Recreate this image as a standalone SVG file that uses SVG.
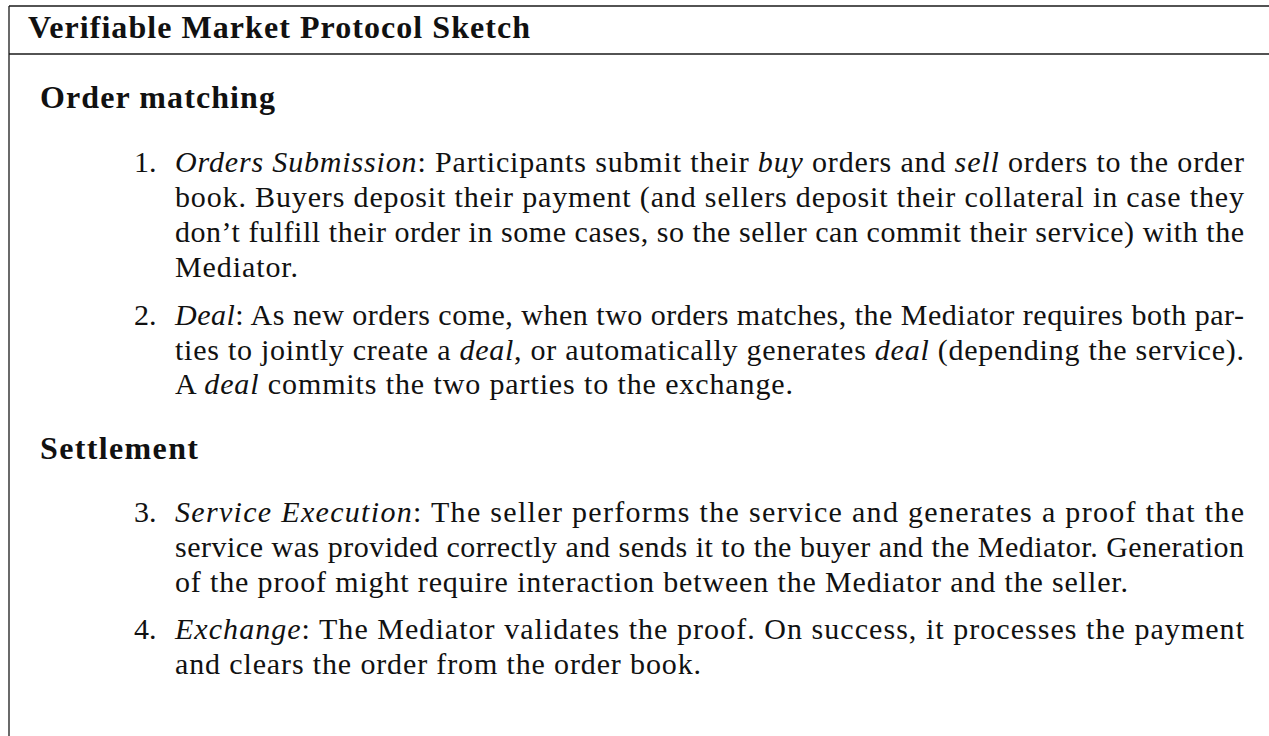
<svg xmlns="http://www.w3.org/2000/svg" width="1269" height="736" viewBox="0 0 1269 736">
<style>
.frame{stroke:#1a1a1a;stroke-width:1.3;fill:none}
.title{font-family:"Liberation Serif","Times New Roman",serif;font-weight:bold;font-size:32px;fill:#111}
.head{font-family:"Liberation Serif","Times New Roman",serif;font-weight:bold;font-size:32px;fill:#111}
.body{font-family:"Liberation Serif","Times New Roman",serif;font-size:30px;fill:#111}
.it{font-style:italic}
</style>
<rect width="1269" height="736" fill="#ffffff"/>
<g id="frame">
<line class="frame" x1="9" y1="6" x2="1269" y2="6"/>
<line class="frame" x1="9" y1="54" x2="1269" y2="54"/>
<line class="frame" x1="9" y1="6" x2="9" y2="736"/>
</g>
<g id="title">
<text class="title" x="28" y="38" textLength="502" lengthAdjust="spacing">Verifiable Market Protocol Sketch</text>
</g>
<g id="section-order-matching">
<text class="head" x="40" y="108" textLength="235" lengthAdjust="spacing">Order matching</text>
</g>
<g id="item-1">
<text class="body" x="134" y="172">1.</text>
<text class="body" x="175" y="172" textLength="1069" lengthAdjust="spacing"><tspan class="it">Orders Submission</tspan>: Participants submit their <tspan class="it">buy</tspan> orders and <tspan class="it">sell</tspan> orders to the order</text>
<text class="body" x="175" y="207" textLength="1069" lengthAdjust="spacing">book. Buyers deposit their payment (and sellers deposit their collateral in case they</text>
<text class="body" x="175" y="242" textLength="1069" lengthAdjust="spacing">don’t fulfill their order in some cases, so the seller can commit their service) with the</text>
<text class="body" x="175" y="277" textLength="123" lengthAdjust="spacing">Mediator.</text>
</g>
<g id="item-2">
<text class="body" x="134" y="325">2.</text>
<text class="body" x="175" y="325" textLength="1069" lengthAdjust="spacing"><tspan class="it">Deal</tspan>: As new orders come, when two orders matches, the Mediator requires both par-</text>
<text class="body" x="175" y="360" textLength="1069" lengthAdjust="spacing">ties to jointly create a <tspan class="it">deal</tspan>, or automatically generates <tspan class="it">deal</tspan> (depending the service).</text>
<text class="body" x="175" y="394" textLength="618" lengthAdjust="spacing">A <tspan class="it">deal</tspan> commits the two parties to the exchange.</text>
</g>
<g id="section-settlement">
<text class="head" x="40" y="459" textLength="158" lengthAdjust="spacing">Settlement</text>
</g>
<g id="item-3">
<text class="body" x="134" y="522">3.</text>
<text class="body" x="175" y="522" textLength="1069" lengthAdjust="spacing"><tspan class="it">Service Execution</tspan>: The seller performs the service and generates a proof that the</text>
<text class="body" x="175" y="557" textLength="1069" lengthAdjust="spacing">service was provided correctly and sends it to the buyer and the Mediator. Generation</text>
<text class="body" x="175" y="592" textLength="953" lengthAdjust="spacing">of the proof might require interaction between the Mediator and the seller.</text>
</g>
<g id="item-4">
<text class="body" x="134" y="639">4.</text>
<text class="body" x="175" y="639" textLength="1069" lengthAdjust="spacing"><tspan class="it">Exchange</tspan>: The Mediator validates the proof. On success, it processes the payment</text>
<text class="body" x="175" y="674" textLength="526" lengthAdjust="spacing">and clears the order from the order book.</text>
</g>
</svg>
